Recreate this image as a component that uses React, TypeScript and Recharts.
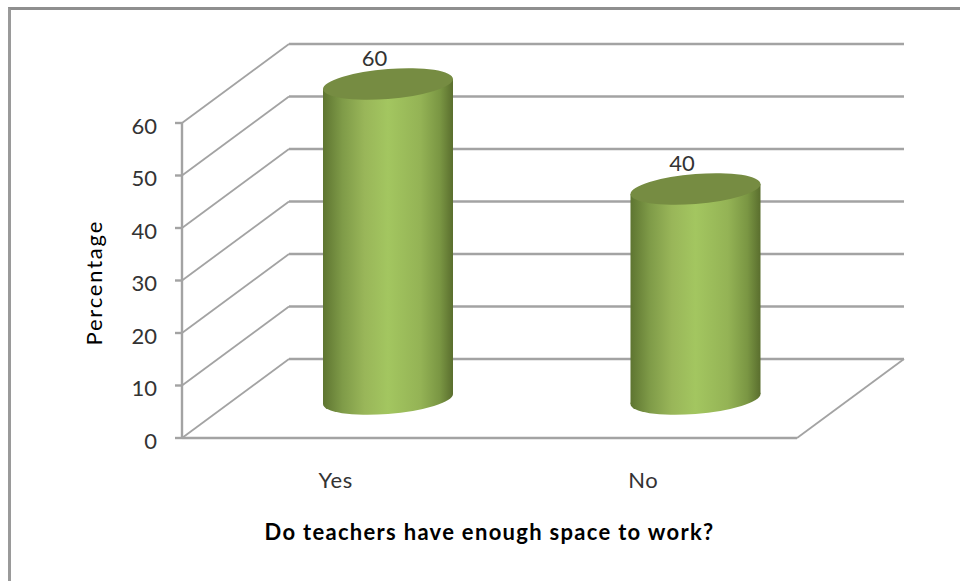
import { Bar, BarChart, CartesianGrid, LabelList, XAxis, YAxis } from "recharts";

const answers = ["Yes", "No"];
const percentages = [60, 40];
const percentTicks = [0, 10, 20, 30, 40, 50, 60];

const chartData = answers.map((answer, i) => ({ answer, percentage: percentages[i] }));

// the back wall sits up and to the right of the front plane
const DEPTH_X = 107;
const DEPTH_Y = 79;
const GRID_COLOR = "#a3a3a3";
const FONT = "Lato, sans-serif";
const CAP_SHEAR = 0.077;

const WallLine = (props: any) => {
  const { x1, x2, y1, y, height } = props;
  const backY = y1 - DEPTH_Y;
  const isFloor = Math.abs(y1 - (y + height)) < 1;
  return (
    <g key={props.key} fill="none" stroke={GRID_COLOR}>
      <line x1={x1} y1={y1} x2={x1 + DEPTH_X} y2={backY} strokeWidth={1.8} />
      <line x1={x1 + DEPTH_X} y1={backY} x2={x2 + DEPTH_X} y2={backY} strokeWidth={2.4} />
      {isFloor && <line x1={x2} y1={y1} x2={x2 + DEPTH_X} y2={backY} strokeWidth={1.8} />}
    </g>
  );
};

// column stands halfway between the front plane and the back wall
const Cylinder = (props: any) => {
  const { x, y, width, height } = props;
  const left = x + DEPTH_X / 2 - 1.5;
  const cx = left + width / 2;
  const topY = y - DEPTH_Y / 2 + 0.5;
  const baseY = topY + height;
  // shear around the column's centre so the caps lean up to the right
  return (
    <g transform={`matrix(1 ${-CAP_SHEAR} 0 1 0 ${CAP_SHEAR * cx})`}>
      <ellipse cx={cx} cy={baseY} rx={width / 2} ry={15} fill="url(#cylinderSide)" />
      <rect x={left} y={topY} width={width} height={height} fill="url(#cylinderSide)" />
      <ellipse cx={cx} cy={topY} rx={width / 2} ry={15} fill="#768c42" />
    </g>
  );
};

const ValueLabel = (props: any) => {
  const { x, y, width, value } = props;
  return (
    <text
      x={x + width / 2 + DEPTH_X / 2 - 15}
      y={y - DEPTH_Y / 2 - 18}
      textAnchor="middle"
      fontFamily={FONT}
      fontSize={22}
      fill="#333333"
    >
      {value}
    </text>
  );
};

export default function App() {
  return (
    <div style={{ position: "absolute", left: 0, top: 0, width: 960, height: 581, background: "#fff", overflow: "hidden" }}>
      <div style={{ position: "absolute", left: 8, top: 7, right: 0, bottom: 0, borderTop: "3px solid #8f8f8f", borderLeft: "3px solid #9a9a9a" }} />
      <div style={{ position: "absolute", left: 0, top: 0 }}>
        <BarChart
          width={960}
          height={581}
          data={chartData}
          margin={{ top: 123, right: 163, bottom: 103, left: 122 }}
        >
          <defs>
            <linearGradient id="cylinderSide" x1="0" y1="0" x2="1" y2="0">
              <stop offset="0%" stopColor="#5e7531" />
              <stop offset="15%" stopColor="#7f9b48" />
              <stop offset="32%" stopColor="#99b659" />
              <stop offset="50%" stopColor="#a3c660" />
              <stop offset="75%" stopColor="#94b355" />
              <stop offset="90%" stopColor="#7a9643" />
              <stop offset="100%" stopColor="#5a6e2e" />
            </linearGradient>
          </defs>
          <CartesianGrid vertical={false} horizontal={(p: any) => <WallLine {...p} />} />
          <XAxis
            dataKey="answer"
            height={40}
            axisLine={{ stroke: GRID_COLOR, strokeWidth: 2.4 }}
            tickLine={false}
            tickMargin={28}
            tick={{ fill: "#333333", fontSize: 22, fontFamily: FONT, letterSpacing: 0.6 }}
            label={{ value: "Do teachers have enough space to work?", position: "insideBottom", dy: 67, fill: "#000", fontSize: 22, fontWeight: 700, fontFamily: FONT, letterSpacing: 1.3 }}
          />
          <YAxis
            type="number"
            width={60}
            domain={[0, 60]}
            ticks={percentTicks}
            interval={0}
            axisLine={{ stroke: GRID_COLOR, strokeWidth: 2.4 }}
            tickLine={{ stroke: GRID_COLOR, strokeWidth: 2.4 }}
            tickSize={7}
            tickMargin={18}
            tick={{ fill: "#333333", fontSize: 22, fontFamily: FONT, dy: 3 }}
            label={{ value: "Percentage", angle: -90, position: "insideLeft", dx: -33, dy: 65, fill: "#000", fontSize: 22, fontFamily: FONT, letterSpacing: 1.8 }}
          />
          <Bar dataKey="percentage" barSize={130} shape={Cylinder} isAnimationActive={false}>
            <LabelList dataKey="percentage" content={ValueLabel} />
          </Bar>
        </BarChart>
      </div>
    </div>
  );
}
